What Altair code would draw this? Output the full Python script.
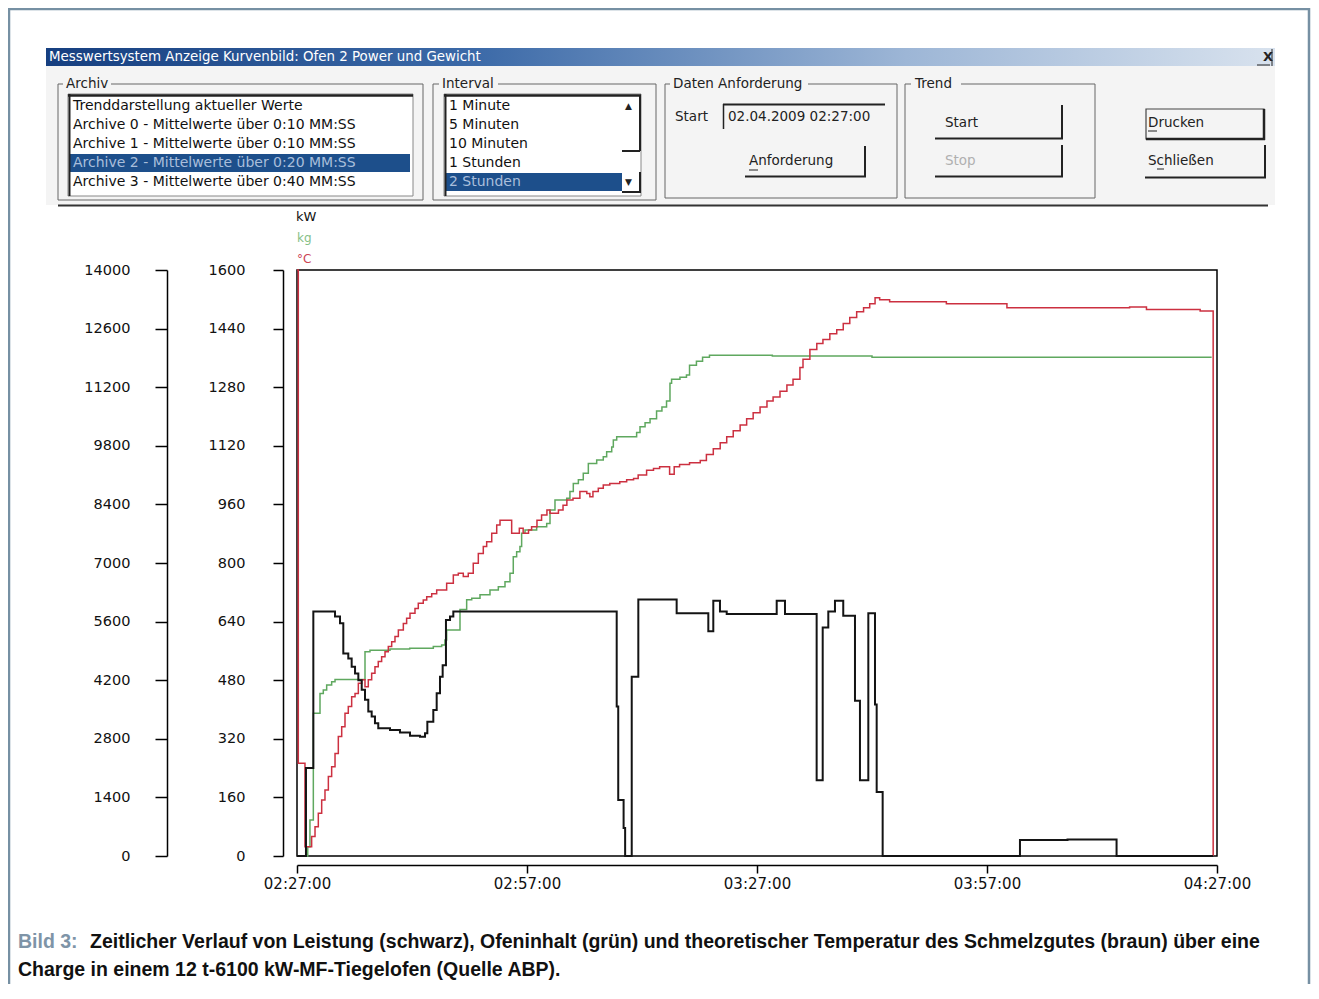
import altair as alt
import pandas as pd

# ---------------- data (minutes after 02:27:00, values) ----------------
power_min = [0, 1.17, 2.13, 4.96, 5.61, 6.04, 6.69, 7.13, 7.57, 8.0, 8.44, 8.87, 9.3, 9.74,
             10.17, 10.6, 12.13, 13.43, 14.74, 16.04, 16.7, 17.0, 17.78, 18.22, 18.65, 19.0,
             19.43, 19.96, 20.39, 41.7, 41.9, 42.6, 42.8, 43.66, 44.52, 49.52, 53.65, 54.3,
             55.17, 56.05, 62.57, 63.65, 67.78, 68.57, 69.3, 70.17, 71.25, 72.78, 73.43, 74.52,
             75.39, 75.61, 76.39, 94.3, 100.5, 106.9, 119.5]
power_kw = [0, 2100, 5840, 5720, 5560, 4840, 4720, 4520, 4360, 4200, 3970, 3730, 3450, 3330,
            3170, 3050, 3010, 2950, 2870, 2850, 2930, 3210, 3490, 3890, 4280, 4560,
            5640, 5720, 5840, 3570, 1340, 670, 0, 4280, 6130, 5800, 5370, 6100,
            5840, 5780, 6100, 5780, 1810, 5460, 5840, 6100, 5740, 3710, 1810, 5800,
            3620, 1530, 0, 380, 395, 0, 0]

kg_min = [0, 1.4, 1.69, 2.13, 3.0, 3.43, 3.87, 4.52, 4.96, 8.87, 9.52, 12.13, 14.7, 17.78,
          18.87, 19.3, 19.52, 21.26, 22.13, 22.79, 23.87, 25.17, 26.26, 27.13, 27.78, 28.21,
          28.65, 29.08, 29.3, 29.74, 31.26, 32.57, 33.0, 33.65, 35.18, 35.6, 36.04, 36.7,
          37.34, 38.0, 39.09, 39.95, 40.39, 41.05, 41.26, 41.7, 44.3, 44.74, 45.4, 46.05,
          46.9, 47.6, 48.2, 48.65, 48.86, 49.95, 50.8, 51.2, 52.1, 52.9, 53.8, 62.0, 75.0,
          119.3]
kg_val = [0, 25, 98, 390, 444, 453, 467, 476, 482, 558, 562, 565, 567, 572,
          576, 590, 617, 673, 700, 704, 713, 726, 735, 749, 772, 817,
          831, 845, 881, 890, 899, 908, 945, 972, 977, 995, 1017, 1027,
          1045, 1072, 1081, 1090, 1104, 1117, 1136, 1145, 1156, 1172, 1183, 1194,
          1215, 1226, 1242, 1291, 1302, 1307, 1313, 1340, 1351, 1362, 1367, 1365, 1362,
          1362]

temp_min = [0, 0.17, 1.04, 1.91, 2.35, 2.78, 3.22, 3.65, 4.09, 4.52, 4.96, 5.39, 5.83, 6.26,
            6.69, 7.13, 7.57, 8.0, 8.44, 8.87, 9.3, 9.74, 10.17, 10.6, 11.04, 11.48, 11.91,
            12.35, 12.78, 13.22, 13.87, 14.3, 14.74, 15.39, 15.82, 16.47, 16.92, 17.57, 18.22,
            19.52, 20.39, 21.04, 21.69, 22.34, 22.99, 23.65, 24.3, 24.74, 25.4, 26.05, 26.48,
            28.0, 29.0, 29.5, 30.2, 30.6, 31.3, 31.9, 32.6, 33.0, 34.1, 34.7, 35.2, 36.0,
            36.9, 37.8, 38.2, 38.6, 39.3, 39.95, 40.8, 42.1, 43.0, 43.9, 44.5, 45.6, 46.5,
            47.3, 48.6, 49.2, 49.9, 51.2, 52.6, 53.4, 54.3, 55.2, 56.05, 56.9, 57.8, 58.65,
            59.5, 60.4, 61.3, 62.1, 63.0, 63.9, 64.7, 65.6, 66.0, 66.9, 67.8, 68.6, 69.5,
            70.4, 71.25, 72.1, 73.0, 73.9, 74.7, 75.4, 76.0, 77.3, 84.7, 92.6, 108.6, 110.8,
            117.8, 119.5]
temp_c = [1600, 253, 25, 53, 80, 117, 153, 180, 217, 244, 280, 326, 353, 390,
          408, 435, 444, 472, 481, 462, 481, 499, 517, 531, 544, 558, 572,
          585, 599, 617, 635, 649, 663, 676, 690, 699, 708, 716, 726,
          745, 767, 772, 763, 772, 799, 826, 845, 858, 881, 904, 917,
          881, 895, 881, 890, 899, 917, 931, 945, 936, 945, 958, 972, 977,
          995, 990, 981, 995, 1004, 1013, 1017, 1022, 1027, 1031, 1040, 1053, 1058,
          1063, 1042, 1063, 1069, 1074, 1080, 1096, 1112, 1128, 1145, 1161, 1177, 1194,
          1210, 1226, 1242, 1253, 1269, 1286, 1302, 1334, 1356, 1383, 1399, 1410, 1426,
          1437, 1454, 1470, 1486, 1497, 1508, 1524, 1519, 1513, 1508, 1497, 1499, 1492,
          1488, 0]

x_ticks = ["02:27:00", "02:57:00", "03:27:00", "03:57:00", "04:27:00"]
power_ticks = list(range(0, 14001, 1400))
temp_ticks = list(range(0, 1601, 160))

BASE = pd.Timestamp("2009-04-02 02:27:00")


def frame(mins, vals):
    t = BASE + pd.to_timedelta(pd.Series(mins, dtype=float), unit="m")
    return pd.DataFrame({"t": t.dt.strftime("%Y-%m-%dT%H:%M:%S.%f").str[:-3], "v": vals})


def dt(hms):
    h, m, s = [int(p) for p in hms.split(":")]
    return alt.DateTime(year=2009, month=4, date=2, hours=h, minutes=m, seconds=s)


x_dom = [dt("02:27:00"), dt("04:27:00")]

# ---------------- layout helpers (page pixel coordinates) ----------------
W, H = 920, 586
OX, OY = 297, 270  # page position of plot origin
FONT = "DejaVu Sans"


def shift(rows):
    out = []
    for r in rows:
        r = dict(r)
        for k in ("x", "x2"):
            if k in r:
                r[k] = r[k] - OX
        for k in ("y", "y2"):
            if k in r:
                r[k] = r[k] - OY
        out.append(r)
    return pd.DataFrame(out)


def rects(rows):
    return alt.Chart(shift(rows)).mark_rect().encode(
        x=alt.X("x:Q", scale=None, axis=None), x2="x2:Q",
        y=alt.Y("y:Q", scale=None, axis=None), y2="y2:Q",
        fill=alt.Fill("fill:N", scale=None),
        stroke=alt.Stroke("stroke:N", scale=None),
        strokeWidth=alt.StrokeWidth("sw:Q", scale=None),
    )


def rules(rows):
    return alt.Chart(shift(rows)).mark_rule().encode(
        x=alt.X("x:Q", scale=None, axis=None), x2="x2:Q",
        y=alt.Y("y:Q", scale=None, axis=None), y2="y2:Q",
        color=alt.Color("c:N", scale=None),
        strokeWidth=alt.StrokeWidth("sw:Q", scale=None),
    )


def texts(rows, font=FONT, weight="normal", align="left"):
    return alt.Chart(shift(rows)).mark_text(
        font=font, fontWeight=weight, align=align, baseline="middle"
    ).encode(
        x=alt.X("x:Q", scale=None, axis=None),
        y=alt.Y("y:Q", scale=None, axis=None),
        text="s:N",
        color=alt.Color("c:N", scale=None),
        size=alt.Size("fs:Q", scale=None),
    )


BG = "#f4f4f4"
DARK = "#222222"
GREY = "#666666"

# window chrome
title_bar = alt.Chart(shift([{"x": 46, "x2": 1275, "y": 48, "y2": 66}])).mark_rect(
    fill=alt.Gradient(gradient="linear", x1=0, x2=1, y1=0, y2=0,
                      stops=[alt.GradientStop(color="#163f80", offset=0),
                             alt.GradientStop(color="#3c6aa8", offset=0.35),
                             alt.GradientStop(color="#9db6d6", offset=0.7),
                             alt.GradientStop(color="#d8e2ee", offset=1)])
).encode(x=alt.X("x:Q", scale=None, axis=None), x2="x2:Q",
         y=alt.Y("y:Q", scale=None, axis=None), y2="y2:Q")

rect_rows = [
    {"x": 9, "x2": 1309, "y": 9, "y2": 1010, "fill": "transparent", "stroke": "#7690a3", "sw": 2.5},
    {"x": 46, "x2": 1275, "y": 66, "y2": 205, "fill": BG, "stroke": "transparent", "sw": 0},
    # group boxes
    {"x": 58, "x2": 423, "y": 84, "y2": 200, "fill": "transparent", "stroke": GREY, "sw": 1},
    {"x": 433, "x2": 656, "y": 84, "y2": 200, "fill": "transparent", "stroke": GREY, "sw": 1},
    {"x": 665, "x2": 897, "y": 84, "y2": 198, "fill": "transparent", "stroke": GREY, "sw": 1},
    {"x": 905, "x2": 1095, "y": 84, "y2": 198, "fill": "transparent", "stroke": GREY, "sw": 1},
    # title gaps
    {"x": 63, "x2": 111, "y": 78, "y2": 90, "fill": BG, "stroke": "transparent", "sw": 0},
    {"x": 439, "x2": 498, "y": 78, "y2": 90, "fill": BG, "stroke": "transparent", "sw": 0},
    {"x": 670, "x2": 808, "y": 78, "y2": 90, "fill": BG, "stroke": "transparent", "sw": 0},
    {"x": 911, "x2": 961, "y": 78, "y2": 90, "fill": BG, "stroke": "transparent", "sw": 0},
    # list boxes
    {"x": 68, "x2": 413, "y": 94, "y2": 196, "fill": "white", "stroke": "#888888", "sw": 1},
    {"x": 444, "x2": 641, "y": 94, "y2": 196, "fill": "white", "stroke": "#888888", "sw": 1},
    {"x": 70, "x2": 410, "y": 154, "y2": 172, "fill": "#1d4f8b", "stroke": "transparent", "sw": 0},
    {"x": 446, "x2": 622, "y": 173, "y2": 191, "fill": "#1d4f8b", "stroke": "transparent", "sw": 0},
    # Drucken focus button
    {"x": 1146, "x2": 1264, "y": 109, "y2": 139, "fill": "transparent", "stroke": "#444444", "sw": 1.2},
]

rule_rows = [
    # sunken list boxes
    {"x": 68, "x2": 413, "y": 95.5, "y2": 95.5, "c": DARK, "sw": 2.5},
    {"x": 69.5, "x2": 69.5, "y": 94, "y2": 196, "c": DARK, "sw": 2},
    {"x": 444, "x2": 641, "y": 95.5, "y2": 95.5, "c": DARK, "sw": 2.5},
    {"x": 445.5, "x2": 445.5, "y": 94, "y2": 196, "c": DARK, "sw": 2},
    # scrollbar
    {"x": 640, "x2": 640, "y": 96, "y2": 151, "c": DARK, "sw": 2},
    {"x": 622, "x2": 640, "y": 151, "y2": 151, "c": DARK, "sw": 2},
    {"x": 640, "x2": 640, "y": 172, "y2": 193, "c": DARK, "sw": 2},
    {"x": 622, "x2": 640, "y": 192, "y2": 192, "c": DARK, "sw": 2},
    # text box
    {"x": 723, "x2": 885, "y": 104.5, "y2": 104.5, "c": DARK, "sw": 2},
    {"x": 723.5, "x2": 723.5, "y": 104, "y2": 129, "c": DARK, "sw": 1.5},
    # buttons (right + bottom shadows)
    {"x": 865, "x2": 865, "y": 146, "y2": 177, "c": DARK, "sw": 2},
    {"x": 745, "x2": 866, "y": 176.5, "y2": 176.5, "c": DARK, "sw": 2},
    {"x": 1062, "x2": 1062, "y": 105, "y2": 139, "c": DARK, "sw": 2},
    {"x": 935, "x2": 1063, "y": 138.5, "y2": 138.5, "c": DARK, "sw": 2},
    {"x": 1062, "x2": 1062, "y": 145, "y2": 177, "c": DARK, "sw": 2},
    {"x": 935, "x2": 1063, "y": 176.5, "y2": 176.5, "c": DARK, "sw": 2},
    {"x": 1264, "x2": 1264, "y": 109, "y2": 140, "c": DARK, "sw": 2.5},
    {"x": 1146, "x2": 1265, "y": 139, "y2": 139, "c": DARK, "sw": 2.5},
    {"x": 1265, "x2": 1265, "y": 145, "y2": 178, "c": DARK, "sw": 2},
    {"x": 1145, "x2": 1266, "y": 177.5, "y2": 177.5, "c": DARK, "sw": 2},
    # mnemonic underlines
    {"x": 749, "x2": 758, "y": 170, "y2": 170, "c": DARK, "sw": 1},
    {"x": 1148, "x2": 1157, "y": 131, "y2": 131, "c": DARK, "sw": 1},
    {"x": 1157, "x2": 1164, "y": 169, "y2": 169, "c": DARK, "sw": 1},
    {"x": 1257, "x2": 1270, "y": 65, "y2": 65, "c": DARK, "sw": 1},
    {"x": 1272, "x2": 1272, "y": 49, "y2": 66, "c": DARK, "sw": 1},
    # separator
    {"x": 58, "x2": 1268, "y": 205.5, "y2": 205.5, "c": "#333333", "sw": 2},
]

ui_text = [
    {"x": 66, "y": 84, "s": "Archiv", "c": DARK, "fs": 13.5},
    {"x": 442, "y": 84, "s": "Interval", "c": DARK, "fs": 13.5},
    {"x": 673, "y": 84, "s": "Daten Anforderung", "c": DARK, "fs": 13.5},
    {"x": 915, "y": 84, "s": "Trend", "c": DARK, "fs": 13.5},
    {"x": 73, "y": 106, "s": "Trenddarstellung aktueller Werte", "c": "#111111", "fs": 14},
    {"x": 73, "y": 125, "s": "Archive 0 - Mittelwerte über 0:10 MM:SS", "c": "#111111", "fs": 14},
    {"x": 73, "y": 144, "s": "Archive 1 - Mittelwerte über 0:10 MM:SS", "c": "#111111", "fs": 14},
    {"x": 73, "y": 163, "s": "Archive 2 - Mittelwerte über 0:20 MM:SS", "c": "#a9bedb", "fs": 14},
    {"x": 73, "y": 182, "s": "Archive 3 - Mittelwerte über 0:40 MM:SS", "c": "#111111", "fs": 14},
    {"x": 449, "y": 106, "s": "1 Minute", "c": "#111111", "fs": 14},
    {"x": 449, "y": 125, "s": "5 Minuten", "c": "#111111", "fs": 14},
    {"x": 449, "y": 144, "s": "10 Minuten", "c": "#111111", "fs": 14},
    {"x": 449, "y": 163, "s": "1 Stunden", "c": "#111111", "fs": 14},
    {"x": 449, "y": 182, "s": "2 Stunden", "c": "#a9bedb", "fs": 14},
    {"x": 625, "y": 106, "s": "▲", "c": DARK, "fs": 9},
    {"x": 625, "y": 182, "s": "▼", "c": DARK, "fs": 9},
    {"x": 675, "y": 117, "s": "Start", "c": DARK, "fs": 13.5},
    {"x": 728, "y": 117, "s": "02.04.2009 02:27:00", "c": DARK, "fs": 13.5},
    {"x": 749, "y": 161, "s": "Anforderung", "c": DARK, "fs": 13.5},
    {"x": 945, "y": 123, "s": "Start", "c": DARK, "fs": 13.5},
    {"x": 945, "y": 161, "s": "Stop", "c": "#b0b0b0", "fs": 13.5},
    {"x": 1148, "y": 123, "s": "Drucken", "c": DARK, "fs": 13.5},
    {"x": 1148, "y": 161, "s": "Schließen", "c": DARK, "fs": 13.5},
    {"x": 296, "y": 217, "s": "kW", "c": "#111111", "fs": 13},
    {"x": 297, "y": 238, "s": "kg", "c": "#86c086", "fs": 12},
    {"x": 297, "y": 259, "s": "°C", "c": "#cc4455", "fs": 12},
]
title_text = [{"x": 49, "y": 57, "s": "Messwertsystem Anzeige Kurvenbild: Ofen 2 Power und Gewicht",
               "c": "white", "fs": 13.4}]
close_text = [{"x": 1263, "y": 57, "s": "X", "c": DARK, "fs": 13}]

CAP = "Liberation Sans"
caption_grey = [{"x": 18, "y": 942, "s": "Bild 3:", "c": "#7e94a7", "fs": 19.5}]
caption_black = [
    {"x": 90, "y": 942, "s": "Zeitlicher Verlauf von Leistung (schwarz), Ofeninhalt (grün) und "
     "theoretischer Temperatur des Schmelzgutes (braun) über eine", "c": "#111111", "fs": 19.5},
    {"x": 18, "y": 970, "s": "Charge in einem 12 t-6100 kW-MF-Tiegelofen (Quelle ABP).",
     "c": "#111111", "fs": 19.5},
]

# ---------------- data layers ----------------
x_enc_axis = alt.X("t:T", scale=alt.Scale(domain=x_dom, nice=False),
                   axis=alt.Axis(format="%H:%M:%S", values=[dt(s) for s in x_ticks],
                                 offset=9, tickSize=8, tickWidth=1.5, tickColor="black",
                                 domainColor="black", domainWidth=1.5,
                                 labelFont=FONT, labelFontSize=15, labelColor="#111111",
                                 labelPadding=3, labelFlush=False, labelOverlap=False,
                                 grid=False, title=None))
x_enc_plain = alt.X("t:T", scale=alt.Scale(domain=x_dom, nice=False), axis=None)

power_layer = alt.Chart(frame(power_min, power_kw)).mark_line(
    interpolate="step-after", color="#141414", strokeWidth=2).encode(
    x=x_enc_axis,
    y=alt.Y("v:Q", scale=alt.Scale(domain=[0, 14000], nice=False),
            axis=alt.Axis(orient="left", offset=130, values=power_ticks, format="d",
                          tickSize=12, tickWidth=1.5, tickColor="black", domainColor="black",
                          domainWidth=1.5, labelFont=FONT, labelFontSize=14.5,
                          labelColor="#111111", labelPadding=25, labelOverlap=False,
                          grid=False, title=None)),
)

temp_layer = alt.Chart(frame(temp_min, temp_c)).mark_line(
    interpolate="step-after", color="#cc3040", strokeWidth=1.5).encode(
    x=x_enc_plain,
    y=alt.Y("v:Q", scale=alt.Scale(domain=[0, 1600], nice=False),
            axis=alt.Axis(orient="left", offset=14, values=temp_ticks, format="d",
                          tickSize=10, tickWidth=1.5, tickColor="black", domainColor="black",
                          domainWidth=1.5, labelFont=FONT, labelFontSize=14.5,
                          labelColor="#111111", labelPadding=28, labelOverlap=False,
                          grid=False, title=None)),
)

kg_layer = alt.Chart(frame(kg_min, kg_val)).mark_line(
    interpolate="step-after", color="#5fa85f", strokeWidth=1.5).encode(
    x=x_enc_plain,
    y=alt.Y("v:Q", scale=alt.Scale(domain=[0, 1600], nice=False), axis=None),
)

chart = alt.layer(
    rects(rect_rows),
    title_bar,
    rules(rule_rows),
    texts(ui_text),
    texts(title_text),
    texts(close_text, weight="bold"),
    texts(caption_grey, font=CAP, weight="bold"),
    texts(caption_black, font=CAP, weight="bold"),
    kg_layer,
    temp_layer,
    power_layer,
).resolve_scale(
    x="independent", y="independent"
).properties(
    width=W, height=H,
    autosize=alt.AutoSizeParams(type="none"),
    padding={"left": 289, "top": 262, "right": 94, "bottom": 128},
    background="white",
).configure_view(
    stroke="black", strokeWidth=1.5
)

chart.save("out.html", embed_options={"renderer": "svg", "actions": False})
